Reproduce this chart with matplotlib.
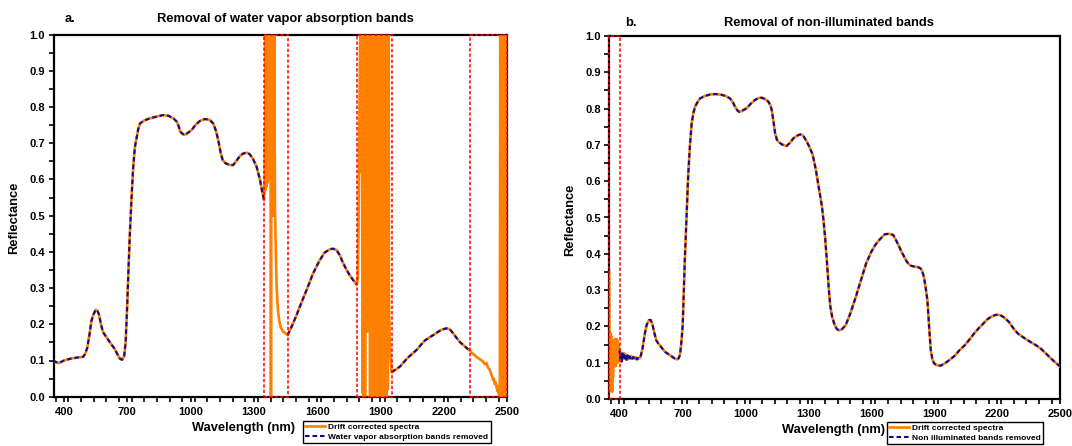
import numpy as np
import matplotlib
matplotlib.use("Agg")
import matplotlib.pyplot as plt
from matplotlib.patches import Rectangle
from matplotlib.ticker import MultipleLocator, FormatStrFormatter

plt.rcParams["font.family"] = ["Liberation Sans", "DejaVu Sans"]
plt.rcParams["font.weight"] = "bold"

ORANGE = "#FF8000"
NAVY = "#0A0A9A"
RED = "#FF0000"

# ---------------- Panel a: drift corrected spectrum ----------------
# clean sections (kept after water vapour band removal)
a_vnir_wl = [350, 360, 375, 400, 430, 460, 490, 500, 510, 520, 530, 540, 550, 558, 565, 575,
             585, 600, 620, 640, 655, 665, 675, 685, 692, 700, 706, 712, 720, 728, 736, 744,
             752, 760, 780, 807, 840, 870, 895, 918, 934, 942, 950, 960, 970, 985, 1005, 1025,
             1045, 1068, 1090, 1107, 1120, 1131, 1142, 1152, 1165, 1186, 1202, 1218, 1234,
             1250, 1266, 1280, 1295, 1313, 1329, 1340, 1348]
a_vnir_refl = [0.100, 0.096, 0.093, 0.100, 0.105, 0.108, 0.110, 0.118, 0.135, 0.170, 0.210,
               0.228, 0.240, 0.238, 0.228, 0.200, 0.178, 0.165, 0.148, 0.132, 0.115, 0.105,
               0.102, 0.112, 0.150, 0.260, 0.360, 0.450, 0.550, 0.635, 0.690, 0.715, 0.740,
               0.755, 0.763, 0.769, 0.774, 0.778, 0.776, 0.769, 0.760, 0.750, 0.733, 0.727,
               0.723, 0.728, 0.737, 0.752, 0.762, 0.767, 0.765, 0.755, 0.735, 0.709, 0.675,
               0.654, 0.645, 0.640, 0.640, 0.652, 0.665, 0.672, 0.674, 0.670, 0.658, 0.635,
               0.599, 0.565, 0.543]
a_swir1_wl = [1460, 1480, 1500, 1518, 1550, 1581, 1610, 1635, 1660, 1675, 1692, 1708, 1723,
              1740, 1755, 1771, 1787]
a_swir1_refl = [0.170, 0.195, 0.222, 0.249, 0.295, 0.341, 0.375, 0.398, 0.407, 0.409, 0.405,
                0.390, 0.369, 0.350, 0.335, 0.322, 0.310]
a_swir2_wl = [1953, 1975, 1992, 2010, 2030, 2050, 2071, 2090, 2110, 2130, 2150, 2170, 2190,
              2213, 2229, 2245, 2260, 2275, 2292, 2308, 2324]
a_swir2_refl = [0.068, 0.076, 0.083, 0.095, 0.108, 0.118, 0.129, 0.142, 0.155, 0.163, 0.170,
                0.178, 0.185, 0.189, 0.186, 0.175, 0.163, 0.152, 0.143, 0.135, 0.127]

# noisy sections inside the water vapour absorption bands
wv1400_wl = [1352, 1353, 1354, 1355, 1356, 1357, 1358, 1359, 1360, 1361, 1362, 1363, 1364,
             1365, 1366, 1367, 1368, 1369, 1370, 1371, 1372, 1373, 1374, 1375, 1376, 1377,
             1378, 1379, 1380, 1381, 1382, 1383, 1384, 1385, 1386, 1387, 1388, 1389, 1390,
             1391, 1392, 1393, 1394, 1395, 1396, 1397, 1398, 1399, 1400, 1404, 1408, 1414,
             1420, 1428, 1439, 1450]
wv1400_refl = [0.60, 0.74, 0.57, 1.00, 0.59, 1.00, 0.60, 1.00, 0.58, 1.00, 0.61, 1.00, 0.59,
               1.00, 0.60, 1.00, 0.62, 1.00, 0.60, 1.00, 0.64, 1.00, 0.66, 1.00, 0.70, 1.00,
               0.75, 1.00, 0.00, 0.00, 0.00, 1.00, 0.80, 1.00, 0.85, 1.00, 0.82, 1.00, 0.86,
               1.00, 0.50, 1.00, 0.70, 1.00, 0.55, 1.00, 0.60, 0.67, 0.52, 0.40, 0.30, 0.24,
               0.21, 0.19, 0.18, 0.175]
wv1900_wl = [1790, 1793, 1796, 1799, 1802, 1804, 1806, 1809, 1812, 1815, 1818, 1821, 1824,
             1827, 1830, 1833, 1836, 1839, 1842, 1845, 1848, 1851, 1854, 1857, 1860, 1863,
             1866, 1869, 1872, 1875, 1878, 1881, 1884, 1887, 1890, 1893, 1896, 1899, 1902,
             1905, 1908, 1911, 1914, 1917, 1920, 1923, 1926, 1929, 1932, 1935, 1938, 1941,
             1944, 1948]
wv1900_refl = [0.315, 0.33, 0.45, 0.70, 0.90, 1.00, 1.00, 0.62, 1.00, 0.01, 1.00, 0.00, 1.00,
               0.00, 0.85, 0.20, 1.00, 0.18, 0.95, 0.57, 1.00, 0.00, 1.00, 0.02, 1.00, 0.00,
               1.00, 0.01, 1.00, 0.00, 1.00, 0.03, 1.00, 0.00, 1.00, 0.00, 1.00, 0.02, 1.00,
               0.00, 1.00, 0.00, 1.00, 0.01, 1.00, 0.00, 1.00, 0.00, 1.00, 0.02, 1.00, 0.25,
               0.15, 0.11]
wv2500_wl = [2340, 2355, 2370, 2385, 2395, 2403, 2410, 2419, 2425, 2430, 2434, 2438, 2442,
             2446, 2450, 2455, 2458, 2462, 2466, 2468, 2471, 2474, 2477, 2480, 2483, 2486,
             2489, 2492, 2495, 2498, 2500]
wv2500_refl = [0.118, 0.110, 0.104, 0.098, 0.090, 0.093, 0.080, 0.074, 0.062, 0.055, 0.046,
               0.050, 0.035, 0.040, 0.028, 0.015, 0.030, 0.000, 0.000, 1.00, 0.00, 1.00,
               0.00, 1.00, 0.00, 1.00, 0.00, 1.00, 0.00, 1.00, 1.00]

# band limits removed in panel a (nm)
wv_bands = [(1350, 1460), (1789, 1955), (2324, 2500)]

# ---------------- Panel b: non-illuminated bands ----------------
b_dark_wl = [351, 353, 355, 357, 359, 361, 363, 365, 367, 369, 371, 373, 375, 377, 379, 381,
             383, 385, 387, 389, 391, 393, 395, 397]
b_dark_refl = [0.35, 0.02, 0.17, 0.03, 0.18, 0.05, 0.17, 0.02, 0.16, 0.06, 0.15, 0.09, 0.16,
               0.10, 0.165, 0.09, 0.16, 0.10, 0.165, 0.11, 0.16, 0.10, 0.15, 0.12]
b_wl = [400, 404, 407, 410, 414, 418, 422, 426, 430, 434, 438, 442, 446, 450, 455, 460, 466,
        472, 478, 484, 490, 496, 501, 510, 521, 530, 540, 548, 556, 565, 575, 585, 600, 617,
        632, 649, 662, 673, 682, 688, 694, 701, 706, 712, 720, 728, 736, 744, 752, 760, 772,
        784, 808, 832, 856, 879, 905, 927, 940, 951, 962, 971, 985, 1006, 1025, 1046, 1062,
        1078, 1095, 1110, 1120, 1126, 1134, 1142, 1150, 1157, 1175, 1197, 1213, 1229, 1245,
        1262, 1275, 1290, 1305, 1320, 1335, 1349, 1358, 1365, 1373, 1381, 1390, 1397, 1405,
        1414, 1425, 1436, 1446, 1460, 1478, 1500, 1527, 1550, 1576, 1600, 1620, 1640, 1665,
        1685, 1705, 1725, 1745, 1770, 1785, 1803, 1820, 1835, 1843, 1851, 1860, 1868, 1876,
        1884, 1892, 1900, 1908, 1920, 1932, 1950, 1965, 1981, 2000, 2020, 2046, 2070, 2090,
        2111, 2135, 2155, 2176, 2196, 2216, 2235, 2257, 2280, 2300, 2322, 2345, 2365, 2386,
        2410, 2430, 2451, 2475, 2500]
b_refl = [0.135, 0.112, 0.128, 0.103, 0.125, 0.110, 0.126, 0.112, 0.122, 0.108, 0.120, 0.110,
          0.118, 0.112, 0.118, 0.111, 0.116, 0.110, 0.115, 0.109, 0.113, 0.112, 0.118, 0.140,
          0.181, 0.205, 0.217, 0.218, 0.208, 0.185, 0.162, 0.153, 0.142, 0.130, 0.124, 0.117,
          0.112, 0.109, 0.112, 0.121, 0.150, 0.199, 0.290, 0.392, 0.510, 0.622, 0.700, 0.759,
          0.787, 0.805, 0.818, 0.828, 0.835, 0.839, 0.840, 0.839, 0.835, 0.828, 0.818, 0.805,
          0.795, 0.791, 0.794, 0.801, 0.813, 0.824, 0.829, 0.830, 0.826, 0.819, 0.808, 0.796,
          0.765, 0.732, 0.715, 0.709, 0.701, 0.697, 0.706, 0.718, 0.725, 0.729, 0.726, 0.712,
          0.695, 0.675, 0.635, 0.586, 0.555, 0.531, 0.490, 0.439, 0.370, 0.309, 0.255, 0.226,
          0.205, 0.193, 0.189, 0.192, 0.203, 0.235, 0.282, 0.325, 0.374, 0.405, 0.425, 0.439,
          0.454, 0.455, 0.452, 0.430, 0.405, 0.378, 0.368, 0.365, 0.364, 0.360, 0.352, 0.337,
          0.305, 0.272, 0.200, 0.134, 0.108, 0.098, 0.095, 0.092, 0.092, 0.098, 0.104, 0.111,
          0.120, 0.134, 0.148, 0.165, 0.180, 0.194, 0.208, 0.220, 0.228, 0.232, 0.231, 0.224,
          0.212, 0.193, 0.180, 0.171, 0.162, 0.155, 0.148, 0.138, 0.127, 0.115, 0.102, 0.090]
dark_band = (352, 402)

x_ticks = [400, 700, 1000, 1300, 1600, 1900, 2200, 2500]


def join(*parts):
    return np.concatenate([np.asarray(p, dtype=float) for p in parts])


gap = [np.nan]
a_drift_wl = join(a_vnir_wl, wv1400_wl, a_swir1_wl, wv1900_wl, a_swir2_wl, wv2500_wl)
a_drift_refl = join(a_vnir_refl, wv1400_refl, a_swir1_refl, wv1900_refl, a_swir2_refl, wv2500_refl)
a_kept_wl = join(a_vnir_wl, gap, a_swir1_wl, gap, a_swir2_wl)
a_kept_refl = join(a_vnir_refl, gap, a_swir1_refl, gap, a_swir2_refl)

b_drift_wl = join(b_dark_wl, b_wl)
b_drift_refl = join(b_dark_refl, b_refl)

W, H = 1072, 446
fig = plt.figure(figsize=(W / 100, H / 100), dpi=100)
ax_a = fig.add_axes([53.5 / W, 1 - 396.7 / H, 453.5 / W, 362 / H])
ax_b = fig.add_axes([609 / W, 1 - 399 / H, 451 / W, 363 / H])


def style(ax):
    ax.set_xlim(350, 2500)
    ax.set_ylim(0, 1.0)
    ax.set_xticks(x_ticks)
    ax.xaxis.set_minor_locator(MultipleLocator(60))
    ax.yaxis.set_major_locator(MultipleLocator(0.1))
    ax.yaxis.set_minor_locator(MultipleLocator(0.05))
    ax.yaxis.set_major_formatter(FormatStrFormatter("%.1f"))
    for s in ax.spines.values():
        s.set_linewidth(1.6)
    ax.tick_params(which="both", direction="out", length=3.5, width=1.2,
                   top=False, right=False, labelsize=8, pad=2.5)
    ax.tick_params(axis="x", which="major", pad=4)
    for lab in ax.get_xticklabels() + ax.get_yticklabels():
        lab.set_fontweight("bold")


def band_box(ax, lo, hi):
    ax.add_patch(Rectangle((lo, 0), hi - lo, 1.0, fill=False, edgecolor=RED,
                           linewidth=1.1, linestyle=(0, (2.2, 1.3)),
                           clip_on=False, zorder=6))


# panel a
ax_a.plot(a_drift_wl, a_drift_refl, color=ORANGE, lw=1.9, zorder=3,
          label="Drift corrected spectra")
ax_a.plot(a_kept_wl, a_kept_refl, color=NAVY, lw=1.5, dashes=(2.2, 1.4), zorder=4,
          label="Water vapor absorption bands removed")
for lo, hi in wv_bands:
    band_box(ax_a, lo, hi)
style(ax_a)

# panel b
ax_b.plot(b_drift_wl, b_drift_refl, color=ORANGE, lw=1.9, zorder=3,
          label="Drift corrected spectra")
ax_b.plot(b_wl, b_refl, color=NAVY, lw=1.5, dashes=(2.2, 1.4), zorder=4,
          label="Non illuminated bands removed")
band_box(ax_b, *dark_band)
style(ax_b)

# titles, axis labels
tkw = dict(fontsize=9.3, fontweight="bold", va="center")
fig.text(65 / W, 1 - 19 / H, "a.", ha="left", **tkw)
fig.text(285 / W, 1 - 19 / H, "Removal of water vapor absorption bands", ha="center", **tkw)
fig.text(625 / W, 1 - 22.5 / H, "b.", ha="left", **tkw)
fig.text(829 / W, 1 - 22.5 / H, "Removal of non-illuminated bands", ha="center", **tkw)

fig.text(243 / W, 1 - 428 / H, "Wavelength (nm)", ha="center", **tkw)
fig.text(834 / W, 1 - 430 / H, "Wavelength (nm)", ha="center", **tkw)
fig.text(14.5 / W, 1 - 218 / H, "Reflectance", ha="center", rotation=90, **tkw)
fig.text(570 / W, 1 - 220 / H, "Reflectance", ha="center", rotation=90, **tkw)

# legends
lkw = dict(loc="upper left", frameon=True, fancybox=False, framealpha=1,
           edgecolor="black", borderpad=0.25, labelspacing=0.35, handlelength=2.4,
           handletextpad=0.4, borderaxespad=0, prop={"weight": "bold", "size": 6})
for ax, x0, y0 in [(ax_a, 303, 420.7), (ax_b, 886.7, 421.7)]:
    h, l = ax.get_legend_handles_labels()
    leg = fig.legend(h, l, bbox_to_anchor=(x0 / W, 1 - y0 / H), **lkw)
    leg.get_frame().set_linewidth(1.0)

fig.savefig("out.png", dpi=100)
